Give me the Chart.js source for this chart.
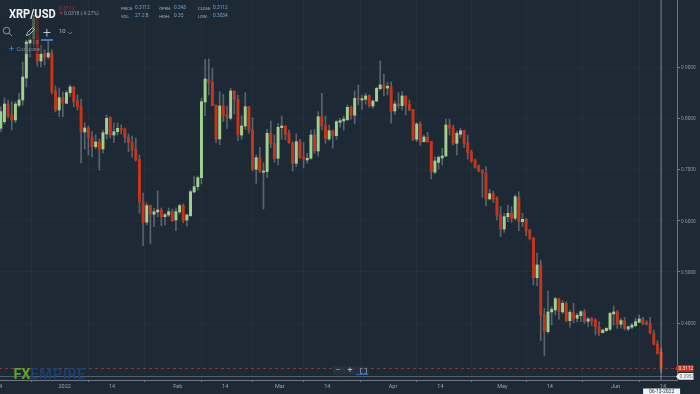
<!DOCTYPE html>
<html>
<head>
<meta charset="utf-8">
<title>XRP/USD</title>
<script src="https://cdn.jsdelivr.net/npm/chart.js@4"></script>
<style>
  html, body { margin: 0; padding: 0; width: 700px; height: 394px; overflow: hidden; background: #1d2935; font-family: Roboto, sans-serif; }
  #wrap { position: relative; width: 700px; height: 394px; overflow: hidden; }
  #chart { position: absolute; left: -1px; top: 0; }
  .t { position: absolute; white-space: nowrap; line-height: 1; }
  .k { font-size: 4.1px; color: #aeb6be; }
  .v { font-size: 4.8px; color: #6fa8d8; }
  #toolbar { position: absolute; left: 0; top: 17px; width: 75px; height: 23px; background: rgba(29,41,53,0.66); }
  #compareBg { position: absolute; left: 4px; top: 44px; width: 37px; height: 10px; background: rgba(29,41,53,0.45); }
  #zoomBar { position: absolute; left: 333px; top: 366px; width: 36px; height: 9px; background: rgba(40,52,64,0.75); }
  #zoomLine { position: absolute; left: 356px; top: 374px; width: 12px; height: 1px; background: #2f64b0; }
  #plusLine { position: absolute; left: 41px; top: 39px; width: 12px; height: 1.5px; background: #3a78c8; }
  svg { position: absolute; }
</style>
</head>
<body>
<div id="wrap">
  <canvas id="chart" width="701" height="394"></canvas>
  <div id="toolbar"></div>
  <div id="compareBg"></div>
  <div class="t" style="left:9px;top:4.5px;font:700 13.5px Roboto,sans-serif;color:#f2f4f6;transform:scaleX(0.82);transform-origin:left top;">XRP/USD</div>
  <div class="t" style="left:58.7px;top:5.5px;font-size:5.3px;color:#c2233a;">0.3112</div>
  <div class="t" style="left:58.5px;top:10.8px;font-size:5.5px;color:#c2233a;">▼</div>
  <div class="t" style="left:64px;top:11.2px;font-size:5px;color:#8d97a1;">0.0318 (-9.27%)</div>
  <div class="t k" style="left:121px;top:6.5px;">PRICE:</div>
  <div class="t v" style="left:135px;top:6px;">0.3112</div>
  <div class="t k" style="left:159.3px;top:6.5px;">OPEN:</div>
  <div class="t v" style="left:174px;top:6px;">0.343</div>
  <div class="t k" style="left:198px;top:6.5px;">CLOSE:</div>
  <div class="t v" style="left:213px;top:6px;">0.3112</div>
  <div class="t k" style="left:121px;top:14.5px;">VOL:</div>
  <div class="t v" style="left:135px;top:14px;">27.2 B</div>
  <div class="t k" style="left:159.3px;top:14.5px;">HIGH:</div>
  <div class="t v" style="left:174px;top:14px;">0.35</div>
  <div class="t k" style="left:198px;top:14.5px;">LOW:</div>
  <div class="t v" style="left:213px;top:14px;">0.3034</div>

  <svg style="left:2px;top:26px" width="11" height="11" fill="none" stroke="#9aa3ab" stroke-width="0.9"><circle cx="4.6" cy="4.6" r="3.3"/><path d="M7 7l3 3"/></svg>
  <svg style="left:25px;top:26px" width="11" height="11" fill="none" stroke="#c4cad0" stroke-width="0.9"><path d="M1.5 9.5l1-3 5-5 2 2-5 5z"/></svg>
  <div class="t" style="left:43px;top:24.5px;font-size:14px;font-weight:300;color:#c4cad0;">+</div>
  <div class="t" style="left:59px;top:27.5px;font-size:6px;color:#aeb6be;">10</div>
  <svg style="left:67px;top:31px" width="6" height="4" fill="none" stroke="#8d97a1" stroke-width="0.7"><path d="M1 1l2 2 2-2"/></svg>
  <div id="plusLine"></div>
  <div class="t" style="left:9px;top:45.5px;font-size:9px;line-height:7px;font-weight:500;color:#2f74c8;">+</div>
  <div class="t" style="left:16.5px;top:46.5px;font-size:5.8px;color:#75808a;">Compare</div>

  <div class="t" style="left:13.5px;top:365.5px;font:700 14.5px Roboto,sans-serif;color:#5aa52e;letter-spacing:-0.2px;">FX<span style="color:#1c4274;font-weight:500;letter-spacing:0.75px;">EMPIRE</span></div>
  <div id="zoomBar"></div>
  <div id="zoomLine"></div>
  <div class="t" style="left:335.5px;top:366px;font-size:9px;color:#aeb6be;">−</div>
  <div class="t" style="left:347.5px;top:366px;font-size:9px;color:#aeb6be;">+</div>
  <div class="t" style="left:359.5px;top:368px;width:5px;height:3.5px;border:0.6px dashed #77818b;"></div>
</div>
<script>
const opens = [
  0.7803,0.7932,0.8278,0.8063,0.7965,0.8253,0.8356,0.8786,0.9469,0.9547,
  0.9957,0.9118,0.9254,0.9196,0.9274,0.8532,0.8161,0.8401,0.8292,0.8499,
  0.8610,0.8336,0.8239,0.7731,0.7809,0.7633,0.7444,0.7536,0.7399,0.7692,
  0.8010,0.7672,0.7737,0.7803,0.7790,0.7628,0.7530,0.7393,0.7198,0.6370,
  0.5968,0.6292,0.6124,0.6169,0.6208,0.6077,0.6110,0.6175,0.6012,0.6169,
  0.6299,0.6012,0.6096,0.6559,0.6663,0.6839,0.8317,0.8760,0.8702,0.8258,
  0.7594,0.8239,0.8063,0.7999,0.8532,0.8370,0.7672,0.7848,0.8225,0.7770,
  0.7003,0.7229,0.6944,0.6956,0.7706,0.7510,0.7217,0.7815,0.7848,0.7706,
  0.7522,0.7120,0.7542,0.7249,0.7184,0.7217,0.7672,0.7360,0.8030,0.7854,
  0.7594,0.7756,0.7659,0.7920,0.7946,0.7971,0.8213,0.8057,0.8389,0.8356,
  0.8370,0.8440,0.8239,0.8336,0.8577,0.8649,0.8590,0.8616,0.8141,0.8278,
  0.8245,0.8434,0.8272,0.8174,0.7588,0.7887,0.7542,0.7633,0.7549,0.6944,
  0.7139,0.7223,0.7262,0.7868,0.7815,0.7510,0.7686,0.7756,0.7522,0.7340,
  0.7184,0.7067,0.6989,0.6930,0.6423,0.6526,0.6436,0.6110,0.5837,0.6077,
  0.6143,0.6046,0.6456,0.5979,0.6026,0.5817,0.5655,0.4886,0.5134,0.4157,
  0.3831,0.4216,0.4255,0.4475,0.4216,0.4386,0.4046,0.4202,0.4092,0.4144,
  0.4222,0.4034,0.4085,0.4059,0.3923,0.3811,0.3851,0.3878,0.4177,0.4216,
  0.3975,0.4046,0.3884,0.3917,0.3948,0.4015,0.4079,0.4015,0.3987,0.3800,
  0.3591,0.3430
];
const highs = [
  0.8225,0.8401,0.8356,0.8323,0.8323,0.8493,0.9098,0.9528,0.9723,1.0016,
  1.0016,0.9430,0.9332,0.9528,0.9332,0.8629,0.8590,0.8512,0.8538,0.8649,
  0.8616,0.8454,0.8376,0.7907,0.7848,0.7737,0.7672,0.7594,0.7770,0.8063,
  0.8030,0.7907,0.7907,0.7868,0.7809,0.7692,0.7653,0.7614,0.7282,0.6540,
  0.6344,0.6305,0.6247,0.6579,0.6247,0.6149,0.6247,0.6227,0.6247,0.6325,
  0.6325,0.6130,0.6598,0.6858,0.6872,0.8395,0.9151,0.9157,0.8975,0.8258,
  0.8518,0.8467,0.8239,0.8585,0.8532,0.8454,0.8049,0.8499,0.8225,0.8010,
  0.7282,0.7432,0.7132,0.7784,0.7946,0.7672,0.7901,0.8044,0.7848,0.7770,
  0.7536,0.7692,0.7588,0.7522,0.7315,0.7770,0.7784,0.8128,0.8487,0.8044,
  0.7868,0.7770,0.7952,0.7999,0.8044,0.8258,0.8239,0.8538,0.8649,0.8454,
  0.8487,0.8454,0.8356,0.8604,0.9118,0.8864,0.8702,0.8713,0.8336,0.8499,
  0.8518,0.8434,0.8356,0.8174,0.7913,0.7932,0.7672,0.7725,0.7549,0.7249,
  0.7262,0.7413,0.7979,0.7979,0.7868,0.7751,0.7803,0.7770,0.7672,0.7379,
  0.7204,0.7087,0.6989,0.7053,0.6612,0.6573,0.6467,0.6272,0.6143,0.6305,
  0.6272,0.6501,0.6565,0.6143,0.6046,0.5831,0.5675,0.5362,0.5231,0.4288,
  0.4626,0.4319,0.4503,0.4483,0.4436,0.4417,0.4255,0.4386,0.4190,0.4241,
  0.4269,0.4112,0.4112,0.4085,0.4026,0.3878,0.3909,0.4210,0.4333,0.4241,
  0.4092,0.4112,0.3942,0.3995,0.4092,0.4157,0.4112,0.4046,0.4112,0.3864,
  0.3655,0.3500
];
const lows = [
  0.7737,0.7887,0.8004,0.7770,0.7913,0.8219,0.8258,0.8610,0.9196,0.9391,
  0.9020,0.9000,0.9039,0.9157,0.8473,0.8122,0.8030,0.8030,0.8278,0.8420,
  0.8225,0.8161,0.7132,0.7399,0.7282,0.7243,0.7399,0.6989,0.7321,0.7594,
  0.7614,0.7522,0.7672,0.7692,0.7516,0.7346,0.7237,0.7165,0.6143,0.5511,
  0.5915,0.5544,0.5882,0.6077,0.5901,0.5915,0.6077,0.5979,0.5803,0.6130,
  0.5960,0.5895,0.6077,0.6540,0.6598,0.6715,0.8049,0.8454,0.8245,0.7522,
  0.7483,0.7932,0.7803,0.7965,0.8083,0.7561,0.7588,0.7784,0.7706,0.6975,
  0.6729,0.6936,0.6227,0.6839,0.7424,0.7139,0.7087,0.7588,0.7575,0.7510,
  0.6969,0.7053,0.7217,0.7034,0.7120,0.7198,0.7315,0.7262,0.7770,0.7510,
  0.7561,0.7413,0.7588,0.7823,0.7770,0.7946,0.7979,0.7887,0.8258,0.8174,
  0.8272,0.8213,0.8194,0.8323,0.8551,0.8434,0.8454,0.7901,0.8077,0.8194,
  0.8161,0.8063,0.8147,0.7561,0.7542,0.7464,0.7530,0.7530,0.6813,0.6911,
  0.7003,0.7087,0.7249,0.7672,0.7477,0.7282,0.7620,0.7424,0.7198,0.7139,
  0.7022,0.6956,0.6456,0.6292,0.6403,0.6350,0.6012,0.5686,0.5772,0.5979,
  0.5968,0.6012,0.5803,0.5882,0.5706,0.5622,0.4743,0.4723,0.3655,0.3356,
  0.3800,0.3962,0.4157,0.4073,0.4190,0.4026,0.3917,0.4007,0.4026,0.4026,
  0.3995,0.3929,0.3948,0.3766,0.3753,0.3800,0.3831,0.3851,0.3962,0.3897,
  0.3897,0.3864,0.3851,0.3884,0.3929,0.4007,0.3962,0.3956,0.3786,0.3571,
  0.3395,0.3034
];
const closes = [
  0.8128,0.8278,0.8049,0.7965,0.8278,0.8356,0.8805,0.9489,0.9547,0.9957,
  0.9118,0.9254,0.9196,0.9274,0.8512,0.8161,0.8401,0.8297,0.8499,0.8610,
  0.8323,0.8225,0.7737,0.7809,0.7633,0.7444,0.7536,0.7393,0.7717,0.7999,
  0.7672,0.7737,0.7803,0.7770,0.7620,0.7522,0.7379,0.7184,0.6370,0.5968,
  0.6292,0.6130,0.6175,0.6208,0.6077,0.6116,0.6175,0.5999,0.6175,0.6292,
  0.5999,0.6110,0.6565,0.6663,0.6839,0.8323,0.8766,0.8702,0.8245,0.7588,
  0.8239,0.8049,0.8010,0.8532,0.8370,0.7672,0.7848,0.8225,0.7770,0.7008,
  0.7229,0.6969,0.6969,0.7706,0.7510,0.7217,0.7823,0.7848,0.7686,0.7522,
  0.7120,0.7542,0.7237,0.7204,0.7217,0.7672,0.7360,0.8030,0.7854,0.7608,
  0.7756,0.7659,0.7932,0.7952,0.7985,0.8213,0.8057,0.8389,0.8362,0.8381,
  0.8434,0.8245,0.8336,0.8585,0.8649,0.8585,0.8624,0.8141,0.8278,0.8245,
  0.8434,0.8258,0.8161,0.7588,0.7887,0.7530,0.7633,0.7536,0.6956,0.7165,
  0.7237,0.7262,0.7868,0.7809,0.7510,0.7706,0.7756,0.7510,0.7327,0.7165,
  0.7042,0.6969,0.6924,0.6423,0.6526,0.6423,0.6110,0.5837,0.6077,0.6143,
  0.6046,0.6467,0.5979,0.6026,0.5798,0.5655,0.4886,0.5134,0.4151,0.3845,
  0.4216,0.4269,0.4475,0.4222,0.4386,0.4046,0.4210,0.4092,0.4151,0.4222,
  0.4026,0.4079,0.4034,0.3929,0.3811,0.3864,0.3897,0.4190,0.4216,0.3981,
  0.4046,0.3897,0.3929,0.3962,0.4026,0.4079,0.3987,0.3975,0.3811,0.3585,
  0.3409,0.3112
];

// day index of each date tick (ticks sit half a candle left of the candle)
const dateTicks = [-0.5, 17.5, 30.5, 48.5, 61.5, 76.5, 89.5, 107.5, 120.5, 137.5, 150.5, 168.5, 181.5];
const dateLabels = ['14', '2022', '14', 'Feb', '14', 'Mar', '14', 'Apr', '14', 'May', '14', 'Jun', '14'];
const priceTicks = [0.4, 0.5, 0.6, 0.7, 0.8, 0.9];
const lastPrice = 0.3112;
const crossPrice = 0.2957;
const crossDay = 181;
const crossDate = '06-13-2022';

const upColor = '#a0d08b';
const downColor = '#c6351b';
const wickColor = 'rgba(255,255,255,0.27)';
const axisColor = '#6f7983';
const gridColor = 'rgba(255,255,255,0.028)';

const wickData = highs.map((h, i) => ({ x: i, y: [lows[i], h] }));
const bodyData = opens.map((o, i) => ({ x: i, y: [o, closes[i]] }));
const bodyColors = opens.map((o, i) => closes[i] >= o ? upColor : downColor);

function tag(ctx, x, y, w, text, fill, color) {
  ctx.beginPath();
  ctx.moveTo(x, y);
  ctx.lineTo(x + 3, y - 3.3);
  ctx.lineTo(x + w, y - 3.3);
  ctx.lineTo(x + w, y + 3.3);
  ctx.lineTo(x + 3, y + 3.3);
  ctx.closePath();
  ctx.fillStyle = fill;
  ctx.fill();
  ctx.fillStyle = color;
  ctx.font = '4.8px Roboto, sans-serif';
  ctx.textAlign = 'left';
  ctx.textBaseline = 'middle';
  ctx.fillText(text, x + 3.5, y + 0.3);
}

const overlay = {
  id: 'overlay',
  afterDraw(chart) {
    const { ctx, chartArea: area, scales } = chart;
    const lastY = scales.y.getPixelForValue(lastPrice);
    const crossY = scales.y.getPixelForValue(crossPrice);
    const crossX = scales.x.getPixelForValue(crossDay);
    ctx.save();
    // last price
    ctx.strokeStyle = 'rgba(190,50,35,0.75)';
    ctx.lineWidth = 1;
    ctx.setLineDash([3, 3]);
    ctx.beginPath();
    ctx.moveTo(area.left, Math.round(lastY) + 0.5);
    ctx.lineTo(area.right, Math.round(lastY) + 0.5);
    ctx.stroke();
    // crosshair
    ctx.setLineDash([]);
    ctx.strokeStyle = 'rgba(205,212,218,0.55)';
    ctx.beginPath();
    ctx.moveTo(crossX, 0);
    ctx.lineTo(crossX, area.bottom);
    ctx.stroke();
    ctx.strokeStyle = 'rgba(205,212,218,0.32)';
    ctx.beginPath();
    ctx.moveTo(area.left, Math.round(crossY) + 0.5);
    ctx.lineTo(area.right, Math.round(crossY) + 0.5);
    ctx.stroke();
    tag(ctx, area.right - 2, lastY, 18.5, lastPrice.toFixed(4), '#c6351b', '#f4e3df');
    tag(ctx, area.right - 1, crossY, 17.5, crossPrice.toFixed(4), '#f1f3f4', '#5b6670');
    // date flag under the crosshair
    ctx.fillStyle = '#f1f3f4';
    ctx.fillRect(crossX - 18, 388.5, 37, 6);
    ctx.fillStyle = '#27313b';
    ctx.font = '5px Roboto, sans-serif';
    ctx.textAlign = 'center';
    ctx.textBaseline = 'middle';
    ctx.fillText(crossDate, crossX + 0.5, 391.8);
    ctx.restore();
  }
};

new Chart(document.getElementById('chart').getContext('2d'), {
  type: 'bar',
  data: {
    datasets: [
      {
        label: 'High-Low',
        data: wickData,
        backgroundColor: wickColor,
        barThickness: 1,
        grouped: false,
        order: 2
      },
      {
        label: 'Open-Close',
        data: bodyData,
        backgroundColor: bodyColors,
        barThickness: 2.3,
        minBarLength: 1,
        grouped: false,
        order: 1
      }
    ]
  },
  options: {
    responsive: false,
    animation: false,
    layout: { padding: 0 },
    plugins: { legend: { display: false }, tooltip: { enabled: false } },
    scales: {
      x: {
        type: 'linear',
        offset: false,
        min: -0.5,
        max: 185.36,
        afterBuildTicks(scale) {
          scale.ticks = dateTicks.map(v => ({ value: v }));
        },
        afterFit(scale) {
          scale.height = 14;
          scale.paddingLeft = 0;
          scale.paddingRight = 0;
        },
        grid: { color: gridColor, tickColor: axisColor, tickLength: 2 },
        border: { color: axisColor, width: 1 },
        ticks: {
          autoSkip: false,
          maxRotation: 0,
          padding: 1.5,
          color: '#9aa3ab',
          font: { family: 'Roboto', size: 5.5 },
          callback: (v, i) => dateLabels[i]
        }
      },
      y: {
        type: 'linear',
        position: 'right',
        min: 0.2887,
        max: 1.0309,
        afterBuildTicks(scale) {
          scale.ticks = priceTicks.map(v => ({ value: v }));
        },
        afterFit(scale) {
          scale.width = 23;
          scale.paddingTop = 0;
          scale.paddingBottom = 0;
        },
        grid: { color: gridColor, tickColor: axisColor, tickLength: 3 },
        border: { color: axisColor, width: 1 },
        ticks: {
          padding: 1,
          labelOffset: 0.7,
          color: '#8d97a1',
          font: { family: 'Roboto', size: 4.8 },
          callback: v => v.toFixed(4)
        }
      }
    }
  },
  plugins: [overlay]
});
</script>
</body>
</html>
